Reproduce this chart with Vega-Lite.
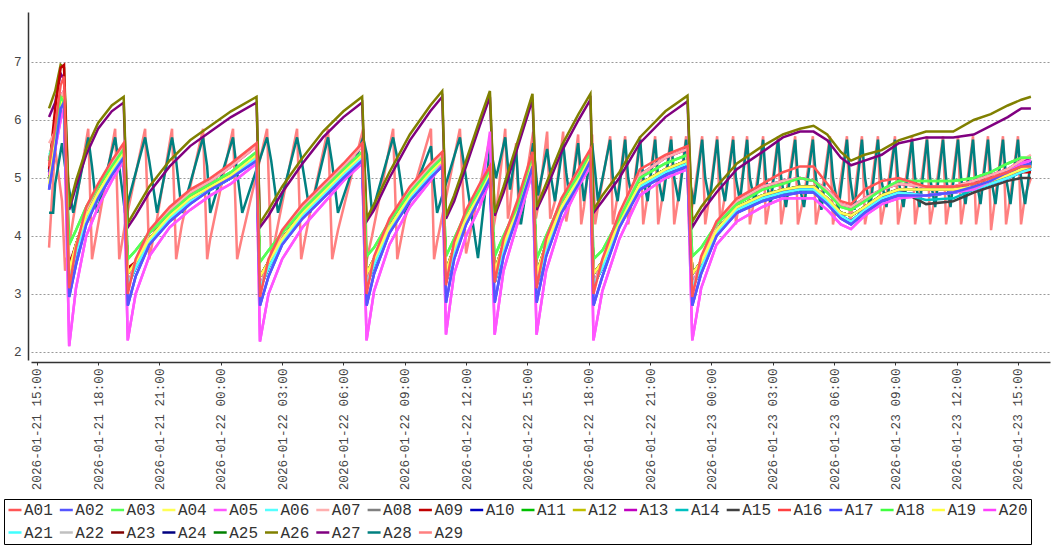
{
"$schema":"https://vega.github.io/schema/vega-lite/v6.json",
"width":1019,"height":348,
"autosize":{"type":"none"},
"padding":{"left":31,"top":12,"right":8,"bottom":191},
"background":"white",
"datasets":{
"g":[
{"t":"2026-01-21T15:36","A01":5.2,"A02":4.8,"A03":5.3,"A04":4.9,"A05":5.05,"A06":5.4,"A07":5.6,"A08":5.0,"A09":5.15,"A10":5.1,"A11":5.0,"A12":5.0,"A13":5.3,"A14":5.1,"A15":5.0,"A16":5.3,"A17":4.8,"A18":5.3,"A19":5.0,"A20":5.05,"A21":5.1,"A22":5.0,"A23":5.0,"A24":5.0,"A25":5.0,"A26":6.2,"A27":6.05},
{"t":"2026-01-21T15:54","A01":5.9,"A02":5.5,"A03":5.8,"A04":5.7,"A05":5.5,"A06":5.6,"A07":5.8,"A08":5.7,"A09":6.2,"A10":5.6,"A11":5.7,"A12":5.7,"A13":5.8,"A14":5.6,"A15":5.7,"A16":5.8,"A17":5.5,"A18":5.8,"A19":5.7,"A20":5.5,"A21":5.6,"A22":5.7,"A23":5.7,"A24":5.6,"A25":5.7,"A26":6.5,"A27":6.3},
{"t":"2026-01-21T16:10","A01":6.6,"A02":6.2,"A03":6.4,"A04":6.3,"A05":6.0,"A06":6.2,"A07":6.4,"A08":6.3,"A09":6.9,"A10":6.2,"A11":6.3,"A12":6.3,"A13":6.4,"A14":6.2,"A15":6.3,"A16":6.4,"A17":6.2,"A18":6.4,"A19":6.3,"A20":6.0,"A21":6.2,"A22":6.3,"A23":6.3,"A24":6.2,"A25":6.3,"A26":6.95,"A27":6.8},
{"t":"2026-01-21T16:20","A01":6.75,"A02":6.3,"A03":6.3,"A04":6.4,"A05":6.2,"A06":6.3,"A07":6.5,"A08":6.4,"A09":6.95,"A10":6.3,"A11":6.4,"A12":6.4,"A13":6.5,"A14":6.3,"A15":6.4,"A16":6.5,"A17":6.3,"A18":6.3,"A19":6.4,"A20":6.2,"A21":6.3,"A22":6.4,"A23":6.4,"A24":6.3,"A25":6.4,"A26":6.9,"A27":6.7},
{"t":"2026-01-21T16:35","A01":3.1,"A02":2.95,"A03":3.85,"A04":3.4,"A05":2.1,"A06":3.2,"A07":3.2,"A08":3.4,"A09":3.5,"A10":3.2,"A11":3.4,"A12":3.4,"A13":3.2,"A14":3.2,"A15":3.4,"A16":3.2,"A17":2.95,"A18":3.85,"A19":3.4,"A20":2.1,"A21":3.2,"A22":3.4,"A23":3.4,"A24":3.2,"A25":3.4,"A26":4.5,"A27":4.45},
{"t":"2026-01-21T16:55","A01":3.8,"A02":3.5,"A03":4.1,"A04":3.85,"A05":3.1,"A06":3.7,"A07":3.75,"A08":3.85,"A09":3.85,"A10":3.7,"A11":3.85,"A12":3.85,"A13":3.75,"A14":3.7,"A15":3.85,"A16":3.75,"A17":3.5,"A18":4.1,"A19":3.85,"A20":3.1,"A21":3.7,"A22":3.85,"A23":3.85,"A24":3.7,"A25":3.85,"A26":4.95,"A27":4.85},
{"t":"2026-01-21T17:25","A01":4.5,"A02":4.2,"A03":4.5,"A04":4.35,"A05":4.0,"A06":4.25,"A07":4.45,"A08":4.35,"A09":4.35,"A10":4.25,"A11":4.35,"A12":4.35,"A13":4.45,"A14":4.25,"A15":4.35,"A16":4.45,"A17":4.2,"A18":4.5,"A19":4.35,"A20":4.0,"A21":4.25,"A22":4.35,"A23":4.35,"A24":4.25,"A25":4.35,"A26":5.5,"A27":5.4},
{"t":"2026-01-21T18:00","A01":4.9,"A02":4.65,"A03":4.85,"A04":4.75,"A05":4.5,"A06":4.7,"A07":4.85,"A08":4.75,"A09":4.75,"A10":4.7,"A11":4.75,"A12":4.75,"A13":4.85,"A14":4.7,"A15":4.75,"A16":4.85,"A17":4.65,"A18":4.85,"A19":4.75,"A20":4.5,"A21":4.7,"A22":4.75,"A23":4.75,"A24":4.7,"A25":4.75,"A26":5.95,"A27":5.85},
{"t":"2026-01-21T18:40","A01":5.3,"A02":5.05,"A03":5.2,"A04":5.15,"A05":4.95,"A06":5.1,"A07":5.25,"A08":5.15,"A09":5.15,"A10":5.1,"A11":5.15,"A12":5.15,"A13":5.25,"A14":5.1,"A15":5.15,"A16":5.25,"A17":5.05,"A18":5.2,"A19":5.15,"A20":4.95,"A21":5.1,"A22":5.15,"A23":5.15,"A24":5.1,"A25":5.15,"A26":6.25,"A27":6.15},
{"t":"2026-01-21T19:15","A01":5.6,"A02":5.35,"A03":5.5,"A04":5.45,"A05":5.3,"A06":5.4,"A07":5.55,"A08":5.45,"A09":5.45,"A10":5.4,"A11":5.45,"A12":5.45,"A13":5.55,"A14":5.4,"A15":5.45,"A16":5.55,"A17":5.35,"A18":5.5,"A19":5.45,"A20":5.3,"A21":5.4,"A22":5.45,"A23":5.45,"A24":5.4,"A25":5.45,"A26":6.4,"A27":6.3},
{"t":"2026-01-21T19:27","A01":3.0,"A02":2.8,"A03":3.6,"A04":3.35,"A05":2.2,"A06":3.15,"A07":3.15,"A08":3.35,"A09":3.45,"A10":3.15,"A11":3.35,"A12":3.35,"A13":3.15,"A14":3.15,"A15":3.35,"A16":3.15,"A17":2.8,"A18":3.6,"A19":3.35,"A20":2.2,"A21":3.15,"A22":3.35,"A23":3.35,"A24":3.15,"A25":3.35,"A26":4.22,"A27":4.15},
{"t":"2026-01-21T19:50","A01":3.6,"A02":3.3,"A03":3.75,"A04":3.55,"A05":3.0,"A06":3.45,"A07":3.55,"A08":3.55,"A09":3.55,"A10":3.45,"A11":3.55,"A12":3.55,"A13":3.55,"A14":3.45,"A15":3.55,"A16":3.55,"A17":3.3,"A18":3.75,"A19":3.55,"A20":3.0,"A21":3.45,"A22":3.55,"A23":3.55,"A24":3.45,"A25":3.55,"A26":4.45,"A27":4.35},
{"t":"2026-01-21T20:30","A01":4.1,"A02":3.85,"A03":4.05,"A04":3.95,"A05":3.65,"A06":3.9,"A07":4.05,"A08":3.95,"A09":3.95,"A10":3.9,"A11":3.95,"A12":3.95,"A13":4.05,"A14":3.9,"A15":3.95,"A16":4.05,"A17":3.85,"A18":4.05,"A19":3.95,"A20":3.65,"A21":3.9,"A22":3.95,"A23":3.95,"A24":3.9,"A25":3.95,"A26":4.85,"A27":4.75},
{"t":"2026-01-21T21:30","A01":4.5,"A02":4.25,"A03":4.4,"A04":4.35,"A05":4.15,"A06":4.3,"A07":4.45,"A08":4.35,"A09":4.35,"A10":4.3,"A11":4.35,"A12":4.35,"A13":4.45,"A14":4.3,"A15":4.35,"A16":4.45,"A17":4.25,"A18":4.4,"A19":4.35,"A20":4.15,"A21":4.3,"A22":4.35,"A23":4.35,"A24":4.3,"A25":4.35,"A26":5.3,"A27":5.2},
{"t":"2026-01-21T22:30","A01":4.8,"A02":4.55,"A03":4.7,"A04":4.65,"A05":4.45,"A06":4.6,"A07":4.75,"A08":4.65,"A09":4.65,"A10":4.6,"A11":4.65,"A12":4.65,"A13":4.75,"A14":4.6,"A15":4.65,"A16":4.75,"A17":4.55,"A18":4.7,"A19":4.65,"A20":4.45,"A21":4.6,"A22":4.65,"A23":4.65,"A24":4.6,"A25":4.65,"A26":5.65,"A27":5.55},
{"t":"2026-01-21T23:30","A01":5.0,"A02":4.8,"A03":4.9,"A04":4.85,"A05":4.7,"A06":4.8,"A07":4.95,"A08":4.85,"A09":4.85,"A10":4.8,"A11":4.85,"A12":4.85,"A13":4.95,"A14":4.8,"A15":4.85,"A16":4.95,"A17":4.8,"A18":4.9,"A19":4.85,"A20":4.7,"A21":4.8,"A22":4.85,"A23":4.85,"A24":4.8,"A25":4.85,"A26":5.9,"A27":5.8},
{"t":"2026-01-22T00:30","A01":5.25,"A02":5.0,"A03":5.1,"A04":5.05,"A05":4.9,"A06":5.0,"A07":5.2,"A08":5.05,"A09":5.05,"A10":5.0,"A11":5.05,"A12":5.05,"A13":5.2,"A14":5.0,"A15":5.05,"A16":5.2,"A17":5.0,"A18":5.1,"A19":5.05,"A20":4.9,"A21":5.0,"A22":5.05,"A23":5.05,"A24":5.0,"A25":5.05,"A26":6.15,"A27":6.05},
{"t":"2026-01-22T01:45","A01":5.6,"A02":5.3,"A03":5.45,"A04":5.4,"A05":5.25,"A06":5.35,"A07":5.55,"A08":5.4,"A09":5.4,"A10":5.35,"A11":5.4,"A12":5.4,"A13":5.55,"A14":5.35,"A15":5.4,"A16":5.55,"A17":5.3,"A18":5.45,"A19":5.4,"A20":5.25,"A21":5.35,"A22":5.4,"A23":5.4,"A24":5.35,"A25":5.4,"A26":6.4,"A27":6.3},
{"t":"2026-01-22T01:55","A01":2.95,"A02":2.8,"A03":3.55,"A04":3.3,"A05":2.18,"A06":3.1,"A07":3.1,"A08":3.3,"A09":3.3,"A10":3.1,"A11":3.3,"A12":3.3,"A13":3.1,"A14":3.1,"A15":3.3,"A16":3.1,"A17":2.8,"A18":3.55,"A19":3.3,"A20":2.18,"A21":3.1,"A22":3.3,"A23":3.3,"A24":3.1,"A25":3.3,"A26":4.22,"A27":4.15},
{"t":"2026-01-22T02:20","A01":3.6,"A02":3.3,"A03":3.75,"A04":3.55,"A05":3.0,"A06":3.45,"A07":3.55,"A08":3.55,"A09":3.55,"A10":3.45,"A11":3.55,"A12":3.55,"A13":3.55,"A14":3.45,"A15":3.55,"A16":3.55,"A17":3.3,"A18":3.75,"A19":3.55,"A20":3.0,"A21":3.45,"A22":3.55,"A23":3.55,"A24":3.45,"A25":3.55,"A26":4.45,"A27":4.35},
{"t":"2026-01-22T03:00","A01":4.1,"A02":3.85,"A03":4.05,"A04":3.95,"A05":3.6,"A06":3.9,"A07":4.05,"A08":3.95,"A09":3.95,"A10":3.9,"A11":3.95,"A12":3.95,"A13":4.05,"A14":3.9,"A15":3.95,"A16":4.05,"A17":3.85,"A18":4.05,"A19":3.95,"A20":3.6,"A21":3.9,"A22":3.95,"A23":3.95,"A24":3.9,"A25":3.95,"A26":4.85,"A27":4.75},
{"t":"2026-01-22T04:00","A01":4.55,"A02":4.3,"A03":4.45,"A04":4.4,"A05":4.15,"A06":4.35,"A07":4.5,"A08":4.4,"A09":4.4,"A10":4.35,"A11":4.4,"A12":4.4,"A13":4.5,"A14":4.35,"A15":4.4,"A16":4.5,"A17":4.3,"A18":4.45,"A19":4.4,"A20":4.15,"A21":4.35,"A22":4.4,"A23":4.4,"A24":4.35,"A25":4.4,"A26":5.35,"A27":5.25},
{"t":"2026-01-22T05:00","A01":4.9,"A02":4.65,"A03":4.8,"A04":4.75,"A05":4.55,"A06":4.7,"A07":4.85,"A08":4.75,"A09":4.75,"A10":4.7,"A11":4.75,"A12":4.75,"A13":4.85,"A14":4.7,"A15":4.75,"A16":4.85,"A17":4.65,"A18":4.8,"A19":4.75,"A20":4.55,"A21":4.7,"A22":4.75,"A23":4.75,"A24":4.7,"A25":4.75,"A26":5.8,"A27":5.7},
{"t":"2026-01-22T06:00","A01":5.25,"A02":5.0,"A03":5.15,"A04":5.1,"A05":4.95,"A06":5.05,"A07":5.2,"A08":5.1,"A09":5.1,"A10":5.05,"A11":5.1,"A12":5.1,"A13":5.2,"A14":5.05,"A15":5.1,"A16":5.2,"A17":5.0,"A18":5.15,"A19":5.1,"A20":4.95,"A21":5.05,"A22":5.1,"A23":5.1,"A24":5.05,"A25":5.1,"A26":6.15,"A27":6.05},
{"t":"2026-01-22T06:55","A01":5.6,"A02":5.3,"A03":5.45,"A04":5.4,"A05":5.25,"A06":5.35,"A07":5.55,"A08":5.4,"A09":5.4,"A10":5.35,"A11":5.4,"A12":5.4,"A13":5.55,"A14":5.35,"A15":5.4,"A16":5.55,"A17":5.3,"A18":5.45,"A19":5.4,"A20":5.25,"A21":5.35,"A22":5.4,"A23":5.4,"A24":5.35,"A25":5.4,"A26":6.4,"A27":6.3},
{"t":"2026-01-22T07:08","A01":3.0,"A02":2.8,"A03":3.65,"A04":3.35,"A05":2.2,"A06":3.15,"A07":3.15,"A08":3.35,"A09":3.35,"A10":3.15,"A11":3.35,"A12":3.35,"A13":3.15,"A14":3.15,"A15":3.35,"A16":3.15,"A17":2.8,"A18":3.65,"A19":3.35,"A20":2.2,"A21":3.15,"A22":3.35,"A23":3.35,"A24":3.15,"A25":3.35,"A26":4.3,"A27":4.25},
{"t":"2026-01-22T07:30","A01":3.65,"A02":3.35,"A03":3.8,"A04":3.6,"A05":3.05,"A06":3.5,"A07":3.6,"A08":3.6,"A09":3.6,"A10":3.5,"A11":3.6,"A12":3.6,"A13":3.6,"A14":3.5,"A15":3.6,"A16":3.6,"A17":3.35,"A18":3.8,"A19":3.6,"A20":3.05,"A21":3.5,"A22":3.6,"A23":3.6,"A24":3.5,"A25":3.6,"A26":4.55,"A27":4.45},
{"t":"2026-01-22T08:15","A01":4.3,"A02":4.05,"A03":4.25,"A04":4.15,"A05":3.85,"A06":4.1,"A07":4.25,"A08":4.15,"A09":4.15,"A10":4.1,"A11":4.15,"A12":4.15,"A13":4.25,"A14":4.1,"A15":4.15,"A16":4.25,"A17":4.05,"A18":4.25,"A19":4.15,"A20":3.85,"A21":4.1,"A22":4.15,"A23":4.15,"A24":4.1,"A25":4.15,"A26":5.1,"A27":5.0},
{"t":"2026-01-22T09:15","A01":4.85,"A02":4.6,"A03":4.75,"A04":4.7,"A05":4.5,"A06":4.65,"A07":4.8,"A08":4.7,"A09":4.7,"A10":4.65,"A11":4.7,"A12":4.7,"A13":4.8,"A14":4.65,"A15":4.7,"A16":4.8,"A17":4.6,"A18":4.75,"A19":4.7,"A20":4.5,"A21":4.65,"A22":4.7,"A23":4.7,"A24":4.65,"A25":4.7,"A26":5.75,"A27":5.65},
{"t":"2026-01-22T10:15","A01":5.25,"A02":5.0,"A03":5.15,"A04":5.1,"A05":4.95,"A06":5.05,"A07":5.2,"A08":5.1,"A09":5.1,"A10":5.05,"A11":5.1,"A12":5.1,"A13":5.2,"A14":5.05,"A15":5.1,"A16":5.2,"A17":5.0,"A18":5.15,"A19":5.1,"A20":4.95,"A21":5.05,"A22":5.1,"A23":5.1,"A24":5.05,"A25":5.1,"A26":6.25,"A27":6.15},
{"t":"2026-01-22T10:50","A01":5.45,"A02":5.2,"A03":5.35,"A04":5.3,"A05":5.25,"A06":5.25,"A07":5.4,"A08":5.3,"A09":5.3,"A10":5.25,"A11":5.3,"A12":5.3,"A13":5.4,"A14":5.25,"A15":5.3,"A16":5.4,"A17":5.2,"A18":5.35,"A19":5.3,"A20":5.25,"A21":5.25,"A22":5.3,"A23":5.3,"A24":5.25,"A25":5.3,"A26":6.5,"A27":6.4},
{"t":"2026-01-22T11:01","A01":3.15,"A02":2.85,"A03":3.65,"A04":3.4,"A05":2.3,"A06":3.2,"A07":3.25,"A08":3.4,"A09":3.4,"A10":3.2,"A11":3.4,"A12":3.4,"A13":3.25,"A14":3.2,"A15":3.4,"A16":3.25,"A17":2.85,"A18":3.65,"A19":3.4,"A20":2.3,"A21":3.2,"A22":3.4,"A23":3.4,"A24":3.2,"A25":3.4,"A26":4.35,"A27":4.3},
{"t":"2026-01-22T11:25","A01":3.9,"A02":3.6,"A03":3.95,"A04":3.8,"A05":3.35,"A06":3.7,"A07":3.85,"A08":3.8,"A09":3.8,"A10":3.7,"A11":3.8,"A12":3.8,"A13":3.85,"A14":3.7,"A15":3.8,"A16":3.85,"A17":3.6,"A18":3.95,"A19":3.8,"A20":3.35,"A21":3.7,"A22":3.8,"A23":3.8,"A24":3.7,"A25":3.8,"A26":4.7,"A27":4.6},
{"t":"2026-01-22T12:00","A01":4.45,"A02":4.2,"A03":4.4,"A04":4.3,"A05":4.0,"A06":4.25,"A07":4.4,"A08":4.3,"A09":4.3,"A10":4.25,"A11":4.3,"A12":4.3,"A13":4.4,"A14":4.25,"A15":4.3,"A16":4.4,"A17":4.2,"A18":4.4,"A19":4.3,"A20":4.0,"A21":4.25,"A22":4.3,"A23":4.3,"A24":4.25,"A25":4.3,"A26":5.3,"A27":5.2},
{"t":"2026-01-22T12:40","A01":4.9,"A02":4.65,"A03":4.8,"A04":4.75,"A05":4.5,"A06":4.7,"A07":4.85,"A08":4.75,"A09":4.75,"A10":4.7,"A11":4.75,"A12":4.75,"A13":4.85,"A14":4.7,"A15":4.75,"A16":4.85,"A17":4.65,"A18":4.8,"A19":4.75,"A20":4.5,"A21":4.7,"A22":4.75,"A23":4.75,"A24":4.7,"A25":4.75,"A26":6.0,"A27":5.9},
{"t":"2026-01-22T13:10","A01":5.2,"A02":5.0,"A03":5.15,"A04":5.1,"A05":5.8,"A06":5.05,"A07":5.2,"A08":5.1,"A09":5.1,"A10":5.05,"A11":5.1,"A12":5.1,"A13":5.2,"A14":5.05,"A15":5.1,"A16":5.2,"A17":5.0,"A18":5.15,"A19":5.1,"A20":4.95,"A21":5.05,"A22":5.1,"A23":5.1,"A24":5.05,"A25":5.1,"A26":6.5,"A27":6.4},
{"t":"2026-01-22T13:24","A01":3.2,"A02":2.85,"A03":3.65,"A04":3.4,"A05":2.3,"A06":3.2,"A07":3.25,"A08":3.4,"A09":3.4,"A10":3.2,"A11":3.4,"A12":3.4,"A13":3.25,"A14":3.2,"A15":3.4,"A16":3.25,"A17":2.85,"A18":3.65,"A19":3.4,"A20":2.3,"A21":3.2,"A22":3.4,"A23":3.4,"A24":3.2,"A25":3.4,"A26":4.4,"A27":4.35},
{"t":"2026-01-22T13:50","A01":3.95,"A02":3.65,"A03":4.0,"A04":3.85,"A05":3.4,"A06":3.75,"A07":3.9,"A08":3.85,"A09":3.85,"A10":3.75,"A11":3.85,"A12":3.85,"A13":3.9,"A14":3.75,"A15":3.85,"A16":3.9,"A17":3.65,"A18":4.0,"A19":3.85,"A20":3.4,"A21":3.75,"A22":3.85,"A23":3.85,"A24":3.75,"A25":3.85,"A26":4.85,"A27":4.75},
{"t":"2026-01-22T14:30","A01":4.6,"A02":4.35,"A03":4.5,"A04":4.45,"A05":4.2,"A06":4.4,"A07":4.55,"A08":4.45,"A09":4.45,"A10":4.4,"A11":4.45,"A12":4.45,"A13":4.55,"A14":4.4,"A15":4.45,"A16":4.55,"A17":4.35,"A18":4.5,"A19":4.45,"A20":4.2,"A21":4.4,"A22":4.45,"A23":4.45,"A24":4.4,"A25":4.45,"A26":5.6,"A27":5.5},
{"t":"2026-01-22T15:15","A01":5.45,"A02":5.2,"A03":5.4,"A04":5.3,"A05":5.1,"A06":5.25,"A07":5.4,"A08":5.3,"A09":5.3,"A10":5.25,"A11":5.3,"A12":5.3,"A13":5.4,"A14":5.25,"A15":5.3,"A16":5.4,"A17":5.2,"A18":5.4,"A19":5.3,"A20":5.1,"A21":5.25,"A22":5.3,"A23":5.3,"A24":5.25,"A25":5.3,"A26":6.45,"A27":6.35},
{"t":"2026-01-22T15:27","A01":3.1,"A02":2.85,"A03":3.6,"A04":3.35,"A05":2.3,"A06":3.15,"A07":3.2,"A08":3.35,"A09":3.35,"A10":3.15,"A11":3.35,"A12":3.35,"A13":3.2,"A14":3.15,"A15":3.35,"A16":3.2,"A17":2.85,"A18":3.6,"A19":3.35,"A20":2.3,"A21":3.15,"A22":3.35,"A23":3.35,"A24":3.15,"A25":3.35,"A26":4.5,"A27":4.45},
{"t":"2026-01-22T15:55","A01":3.95,"A02":3.65,"A03":4.0,"A04":3.85,"A05":3.4,"A06":3.75,"A07":3.9,"A08":3.85,"A09":3.85,"A10":3.75,"A11":3.85,"A12":3.85,"A13":3.9,"A14":3.75,"A15":3.85,"A16":3.9,"A17":3.65,"A18":4.0,"A19":3.85,"A20":3.4,"A21":3.75,"A22":3.85,"A23":3.85,"A24":3.75,"A25":3.85,"A26":4.9,"A27":4.8},
{"t":"2026-01-22T16:40","A01":4.65,"A02":4.4,"A03":4.6,"A04":4.5,"A05":4.25,"A06":4.45,"A07":4.6,"A08":4.5,"A09":4.5,"A10":4.45,"A11":4.5,"A12":4.5,"A13":4.6,"A14":4.45,"A15":4.5,"A16":4.6,"A17":4.4,"A18":4.6,"A19":4.5,"A20":4.25,"A21":4.45,"A22":4.5,"A23":4.5,"A24":4.45,"A25":4.5,"A26":5.55,"A27":5.45},
{"t":"2026-01-22T17:30","A01":5.15,"A02":4.9,"A03":5.05,"A04":5.0,"A05":4.85,"A06":4.95,"A07":5.1,"A08":5.0,"A09":5.0,"A10":4.95,"A11":5.0,"A12":5.0,"A13":5.1,"A14":4.95,"A15":5.0,"A16":5.1,"A17":4.9,"A18":5.05,"A19":5.0,"A20":4.85,"A21":4.95,"A22":5.0,"A23":5.0,"A24":4.95,"A25":5.0,"A26":6.1,"A27":6.0},
{"t":"2026-01-22T18:05","A01":5.5,"A02":5.3,"A03":5.45,"A04":5.35,"A05":5.2,"A06":5.3,"A07":5.45,"A08":5.35,"A09":5.35,"A10":5.3,"A11":5.35,"A12":5.35,"A13":5.45,"A14":5.3,"A15":5.35,"A16":5.45,"A17":5.3,"A18":5.45,"A19":5.35,"A20":5.2,"A21":5.3,"A22":5.35,"A23":5.35,"A24":5.3,"A25":5.35,"A26":6.45,"A27":6.35},
{"t":"2026-01-22T18:14","A01":3.0,"A02":2.8,"A03":3.6,"A04":3.35,"A05":2.2,"A06":3.15,"A07":3.15,"A08":3.35,"A09":3.35,"A10":3.15,"A11":3.35,"A12":3.35,"A13":3.15,"A14":3.15,"A15":3.35,"A16":3.15,"A17":2.8,"A18":3.6,"A19":3.35,"A20":2.2,"A21":3.15,"A22":3.35,"A23":3.35,"A24":3.15,"A25":3.35,"A26":4.45,"A27":4.4},
{"t":"2026-01-22T18:40","A01":3.6,"A02":3.3,"A03":3.75,"A04":3.55,"A05":3.05,"A06":3.45,"A07":3.55,"A08":3.55,"A09":3.55,"A10":3.45,"A11":3.55,"A12":3.55,"A13":3.55,"A14":3.45,"A15":3.55,"A16":3.55,"A17":3.3,"A18":3.75,"A19":3.55,"A20":3.05,"A21":3.45,"A22":3.55,"A23":3.55,"A24":3.45,"A25":3.55,"A26":4.7,"A27":4.6},
{"t":"2026-01-22T19:30","A01":4.4,"A02":4.15,"A03":4.3,"A04":4.25,"A05":3.95,"A06":4.2,"A07":4.35,"A08":4.25,"A09":4.25,"A10":4.2,"A11":4.25,"A12":4.25,"A13":4.35,"A14":4.2,"A15":4.25,"A16":4.35,"A17":4.15,"A18":4.3,"A19":4.25,"A20":3.95,"A21":4.2,"A22":4.25,"A23":4.25,"A24":4.2,"A25":4.25,"A26":5.1,"A27":5.0},
{"t":"2026-01-22T20:30","A01":5.15,"A02":4.8,"A03":5.0,"A04":4.9,"A05":4.7,"A06":4.85,"A07":5.05,"A08":4.9,"A09":4.9,"A10":4.85,"A11":4.9,"A12":4.9,"A13":5.05,"A14":4.85,"A15":4.9,"A16":5.05,"A17":4.8,"A18":5.0,"A19":4.9,"A20":4.7,"A21":4.85,"A22":4.9,"A23":4.9,"A24":4.85,"A25":4.9,"A26":5.7,"A27":5.6},
{"t":"2026-01-22T21:45","A01":5.4,"A02":5.05,"A03":5.25,"A04":5.15,"A05":5.0,"A06":5.1,"A07":5.35,"A08":5.15,"A09":5.15,"A10":5.1,"A11":5.15,"A12":5.15,"A13":5.35,"A14":5.1,"A15":5.15,"A16":5.35,"A17":5.05,"A18":5.25,"A19":5.15,"A20":5.0,"A21":5.1,"A22":5.15,"A23":5.15,"A24":5.1,"A25":5.15,"A26":6.15,"A27":6.05},
{"t":"2026-01-22T22:50","A01":5.55,"A02":5.2,"A03":5.4,"A04":5.3,"A05":5.15,"A06":5.25,"A07":5.5,"A08":5.3,"A09":5.3,"A10":5.25,"A11":5.3,"A12":5.3,"A13":5.5,"A14":5.25,"A15":5.3,"A16":5.5,"A17":5.2,"A18":5.4,"A19":5.3,"A20":5.15,"A21":5.25,"A22":5.3,"A23":5.3,"A24":5.25,"A25":5.3,"A26":6.42,"A27":6.32},
{"t":"2026-01-22T23:04","A01":2.95,"A02":2.8,"A03":3.65,"A04":3.35,"A05":2.2,"A06":3.1,"A07":3.1,"A08":3.35,"A09":3.35,"A10":3.1,"A11":3.35,"A12":3.35,"A13":3.1,"A14":3.1,"A15":3.35,"A16":3.1,"A17":2.8,"A18":3.65,"A19":3.35,"A20":2.2,"A21":3.1,"A22":3.35,"A23":3.35,"A24":3.1,"A25":3.35,"A26":4.25,"A27":4.15},
{"t":"2026-01-22T23:30","A01":3.65,"A02":3.35,"A03":3.8,"A04":3.55,"A05":3.1,"A06":3.45,"A07":3.6,"A08":3.55,"A09":3.55,"A10":3.45,"A11":3.55,"A12":3.55,"A13":3.6,"A14":3.45,"A15":3.55,"A16":3.6,"A17":3.35,"A18":3.8,"A19":3.55,"A20":3.1,"A21":3.45,"A22":3.55,"A23":3.55,"A24":3.45,"A25":3.55,"A26":4.5,"A27":4.4},
{"t":"2026-01-23T00:15","A01":4.25,"A02":4.0,"A03":4.2,"A04":4.1,"A05":3.85,"A06":4.05,"A07":4.2,"A08":4.1,"A09":4.1,"A10":4.05,"A11":4.1,"A12":4.1,"A13":4.2,"A14":4.05,"A15":4.1,"A16":4.2,"A17":4.0,"A18":4.2,"A19":4.1,"A20":3.85,"A21":4.05,"A22":4.1,"A23":4.1,"A24":4.05,"A25":4.1,"A26":4.85,"A27":4.75},
{"t":"2026-01-23T01:15","A01":4.65,"A02":4.4,"A03":4.55,"A04":4.5,"A05":4.25,"A06":4.45,"A07":4.6,"A08":4.5,"A09":4.5,"A10":4.45,"A11":4.5,"A12":4.5,"A13":4.6,"A14":4.45,"A15":4.5,"A16":4.6,"A17":4.4,"A18":4.55,"A19":4.5,"A20":4.25,"A21":4.45,"A22":4.5,"A23":4.5,"A24":4.45,"A25":4.5,"A26":5.25,"A27":5.15},
{"t":"2026-01-23T02:30","A01":4.9,"A02":4.6,"A03":4.8,"A04":4.7,"A05":4.5,"A06":4.65,"A07":4.85,"A08":4.7,"A09":4.7,"A10":4.65,"A11":4.7,"A12":4.7,"A13":4.85,"A14":4.65,"A15":4.7,"A16":4.85,"A17":4.6,"A18":4.8,"A19":4.7,"A20":4.5,"A21":4.65,"A22":4.7,"A23":4.7,"A24":4.65,"A25":4.7,"A26":5.55,"A27":5.45},
{"t":"2026-01-23T03:30","A01":5.1,"A02":4.7,"A03":4.9,"A04":4.8,"A05":4.65,"A06":4.75,"A07":4.95,"A08":4.8,"A09":4.8,"A10":4.75,"A11":4.8,"A12":4.8,"A13":4.95,"A14":4.75,"A15":4.8,"A16":4.95,"A17":4.7,"A18":4.9,"A19":4.8,"A20":4.65,"A21":4.75,"A22":4.8,"A23":4.8,"A24":4.75,"A25":4.8,"A26":5.75,"A27":5.7},
{"t":"2026-01-23T04:20","A01":5.2,"A02":4.75,"A03":5.0,"A04":4.85,"A05":4.65,"A06":4.8,"A07":5.0,"A08":4.85,"A09":4.85,"A10":4.8,"A11":4.85,"A12":4.85,"A13":5.0,"A14":4.8,"A15":4.85,"A16":5.0,"A17":4.75,"A18":5.0,"A19":4.85,"A20":4.65,"A21":4.8,"A22":4.85,"A23":4.85,"A24":4.8,"A25":4.85,"A26":5.85,"A27":5.8},
{"t":"2026-01-23T05:00","A01":5.2,"A02":4.75,"A03":4.95,"A04":4.85,"A05":4.65,"A06":4.8,"A07":4.95,"A08":4.85,"A09":4.85,"A10":4.8,"A11":4.85,"A12":4.85,"A13":4.95,"A14":4.8,"A15":4.85,"A16":4.95,"A17":4.75,"A18":4.95,"A19":4.85,"A20":4.65,"A21":4.8,"A22":4.85,"A23":4.85,"A24":4.8,"A25":4.85,"A26":5.9,"A27":5.8},
{"t":"2026-01-23T05:40","A01":4.9,"A02":4.55,"A03":4.75,"A04":4.65,"A05":4.45,"A06":4.6,"A07":4.8,"A08":4.65,"A09":4.65,"A10":4.6,"A11":4.65,"A12":4.65,"A13":4.8,"A14":4.6,"A15":4.65,"A16":4.8,"A17":4.55,"A18":4.75,"A19":4.65,"A20":4.45,"A21":4.6,"A22":4.65,"A23":4.65,"A24":4.6,"A25":4.65,"A26":5.75,"A27":5.65},
{"t":"2026-01-23T06:20","A01":4.6,"A02":4.3,"A03":4.5,"A04":4.4,"A05":4.2,"A06":4.35,"A07":4.55,"A08":4.4,"A09":4.4,"A10":4.35,"A11":4.4,"A12":4.4,"A13":4.55,"A14":4.35,"A15":4.4,"A16":4.55,"A17":4.3,"A18":4.5,"A19":4.4,"A20":4.2,"A21":4.35,"A22":4.4,"A23":4.4,"A24":4.35,"A25":4.4,"A26":5.45,"A27":5.35},
{"t":"2026-01-23T06:50","A01":4.55,"A02":4.2,"A03":4.45,"A04":4.35,"A05":4.12,"A06":4.25,"A07":4.5,"A08":4.35,"A09":4.35,"A10":4.25,"A11":4.35,"A12":4.35,"A13":4.5,"A14":4.25,"A15":4.35,"A16":4.5,"A17":4.2,"A18":4.45,"A19":4.35,"A20":4.12,"A21":4.25,"A22":4.35,"A23":4.35,"A24":4.25,"A25":4.35,"A26":5.3,"A27":5.22},
{"t":"2026-01-23T07:30","A01":4.8,"A02":4.4,"A03":4.6,"A04":4.5,"A05":4.35,"A06":4.45,"A07":4.65,"A08":4.5,"A09":4.5,"A10":4.45,"A11":4.5,"A12":4.5,"A13":4.65,"A14":4.45,"A15":4.5,"A16":4.65,"A17":4.4,"A18":4.6,"A19":4.5,"A20":4.35,"A21":4.45,"A22":4.5,"A23":4.5,"A24":4.45,"A25":4.5,"A26":5.4,"A27":5.3},
{"t":"2026-01-23T08:20","A01":4.95,"A02":4.6,"A03":4.8,"A04":4.7,"A05":4.55,"A06":4.65,"A07":4.8,"A08":4.7,"A09":4.7,"A10":4.65,"A11":4.7,"A12":4.7,"A13":4.8,"A14":4.65,"A15":4.7,"A16":4.8,"A17":4.6,"A18":4.8,"A19":4.7,"A20":4.55,"A21":4.65,"A22":4.7,"A23":4.7,"A24":4.65,"A25":4.7,"A26":5.48,"A27":5.4},
{"t":"2026-01-23T09:10","A01":5.0,"A02":4.7,"A03":4.95,"A04":4.8,"A05":4.65,"A06":4.75,"A07":4.9,"A08":4.8,"A09":4.8,"A10":4.75,"A11":4.8,"A12":4.8,"A13":4.9,"A14":4.75,"A15":4.8,"A16":4.9,"A17":4.7,"A18":4.95,"A19":4.8,"A20":4.65,"A21":4.75,"A22":4.8,"A23":4.8,"A24":4.75,"A25":4.8,"A26":5.65,"A27":5.6},
{"t":"2026-01-23T10:30","A01":4.85,"A02":4.7,"A03":4.95,"A04":4.8,"A05":4.7,"A06":4.7,"A07":4.85,"A08":4.8,"A09":4.8,"A10":4.7,"A11":4.8,"A12":4.8,"A13":4.85,"A14":4.62,"A15":4.55,"A16":4.85,"A17":4.7,"A18":4.95,"A19":4.8,"A20":4.7,"A21":4.7,"A22":4.8,"A23":4.8,"A24":4.7,"A25":4.8,"A26":5.8,"A27":5.7},
{"t":"2026-01-23T11:50","A01":4.85,"A02":4.75,"A03":4.95,"A04":4.8,"A05":4.75,"A06":4.75,"A07":4.85,"A08":4.8,"A09":4.8,"A10":4.75,"A11":4.8,"A12":4.8,"A13":4.85,"A14":4.65,"A15":4.6,"A16":4.85,"A17":4.75,"A18":4.95,"A19":4.8,"A20":4.75,"A21":4.75,"A22":4.8,"A23":4.8,"A24":4.75,"A25":4.8,"A26":5.8,"A27":5.7},
{"t":"2026-01-23T12:50","A01":4.9,"A02":4.85,"A03":5.0,"A04":4.85,"A05":4.8,"A06":4.8,"A07":4.95,"A08":4.85,"A09":4.85,"A10":4.8,"A11":4.85,"A12":4.85,"A13":4.95,"A14":4.8,"A15":4.75,"A16":4.95,"A17":4.85,"A18":5.0,"A19":4.85,"A20":4.8,"A21":4.8,"A22":4.85,"A23":4.85,"A24":4.8,"A25":4.85,"A26":6.0,"A27":5.75},
{"t":"2026-01-23T13:40","A01":5.0,"A02":4.95,"A03":5.1,"A04":4.95,"A05":4.95,"A06":4.9,"A07":5.05,"A08":4.95,"A09":4.95,"A10":4.9,"A11":4.95,"A12":4.95,"A13":5.05,"A14":4.9,"A15":4.85,"A16":5.05,"A17":4.95,"A18":5.1,"A19":4.95,"A20":4.95,"A21":4.9,"A22":4.95,"A23":4.95,"A24":4.9,"A25":4.95,"A26":6.1,"A27":5.9},
{"t":"2026-01-23T14:30","A01":5.1,"A02":5.1,"A03":5.25,"A04":5.05,"A05":5.1,"A06":5.0,"A07":5.15,"A08":5.05,"A09":5.05,"A10":5.0,"A11":5.05,"A12":5.05,"A13":5.15,"A14":5.0,"A15":4.95,"A16":5.15,"A17":5.1,"A18":5.25,"A19":5.05,"A20":5.1,"A21":5.0,"A22":5.05,"A23":5.05,"A24":5.0,"A25":5.05,"A26":6.25,"A27":6.05},
{"t":"2026-01-23T15:10","A01":5.2,"A02":5.2,"A03":5.35,"A04":5.15,"A05":5.25,"A06":5.1,"A07":5.3,"A08":5.15,"A09":5.1,"A10":5.1,"A11":5.15,"A12":5.15,"A13":5.3,"A14":5.1,"A15":5.0,"A16":5.3,"A17":5.2,"A18":5.35,"A19":5.15,"A20":5.25,"A21":5.1,"A22":5.15,"A23":5.15,"A24":5.1,"A25":5.15,"A26":6.35,"A27":6.2},
{"t":"2026-01-23T15:38","A01":5.2,"A02":5.25,"A03":5.35,"A04":5.2,"A05":5.3,"A06":5.15,"A07":5.4,"A08":5.2,"A09":5.1,"A10":5.15,"A11":5.2,"A12":5.2,"A13":5.35,"A14":5.15,"A15":5.0,"A16":5.35,"A17":5.25,"A18":5.35,"A19":5.2,"A20":5.3,"A21":5.15,"A22":5.2,"A23":5.2,"A24":5.15,"A25":5.2,"A26":6.4,"A27":6.2}
],
"z":[
{"t":"2026-01-21T15:36","A28":4.4,"A29":3.8},{"t":"2026-01-21T15:48","A28":4.4,"A29":5.0},{"t":"2026-01-21T15:54","A28":4.9,"A29":5.5},
{"t":"2026-01-21T16:14","A28":5.6,"A29":4.6},{"t":"2026-01-21T16:23","A28":5.2,"A29":3.4},{"t":"2026-01-21T16:47","A28":4.4,"A29":4.3},
{"t":"2026-01-21T17:31","A28":5.7,"A29":5.85},{"t":"2026-01-21T17:42","A28":5.2,"A29":3.6},{"t":"2026-01-21T17:57","A28":4.4,"A29":4.1},
{"t":"2026-01-21T18:50","A28":5.7,"A29":5.85},{"t":"2026-01-21T19:02","A28":5.2,"A29":3.6},{"t":"2026-01-21T19:19","A28":4.4,"A29":4.2},
{"t":"2026-01-21T20:18","A28":5.7,"A29":5.85},{"t":"2026-01-21T20:30","A28":5.3,"A29":3.6},{"t":"2026-01-21T20:53","A28":4.4,"A29":4.3},
{"t":"2026-01-21T21:37","A28":5.7,"A29":5.85},{"t":"2026-01-21T21:49","A28":5.3,"A29":3.6},{"t":"2026-01-21T22:06","A28":4.4,"A29":4.2},
{"t":"2026-01-21T23:08","A28":5.7,"A29":5.85},{"t":"2026-01-21T23:20","A28":5.2,"A29":3.6},{"t":"2026-01-21T23:29","A28":4.4,"A29":3.95},
{"t":"2026-01-22T00:36","A28":5.7,"A29":5.85},{"t":"2026-01-22T00:48","A28":5.1,"A29":3.6},{"t":"2026-01-22T01:03","A28":4.4,"A29":4.0},
{"t":"2026-01-22T02:16","A28":5.7,"A29":5.85},{"t":"2026-01-22T02:28","A28":5.3,"A29":3.6},{"t":"2026-01-22T02:48","A28":4.4,"A29":4.2},
{"t":"2026-01-22T03:44","A28":5.7,"A29":5.85},{"t":"2026-01-22T03:56","A28":5.35,"A29":3.6},{"t":"2026-01-22T04:22","A28":4.4,"A29":4.4},
{"t":"2026-01-22T05:15","A28":5.7,"A29":5.85},{"t":"2026-01-22T05:27","A28":5.25,"A29":3.6},{"t":"2026-01-22T05:44","A28":4.4,"A29":4.1},
{"t":"2026-01-22T06:58","A28":5.7,"A29":5.85},{"t":"2026-01-22T07:09","A28":5.4,"A29":3.6},{"t":"2026-01-22T07:24","A28":4.4,"A29":4.0},
{"t":"2026-01-22T08:26","A28":5.7,"A29":5.85},{"t":"2026-01-22T08:38","A28":5.35,"A29":3.6},{"t":"2026-01-22T09:01","A28":4.4,"A29":4.3},
{"t":"2026-01-22T10:17","A28":5.55,"A29":5.85},{"t":"2026-01-22T10:26","A28":4.9,"A29":3.6},{"t":"2026-01-22T10:35","A28":4.4,"A29":3.9},
{"t":"2026-01-22T11:42","A28":5.7,"A29":5.85},{"t":"2026-01-22T12:00","A28":5.0,"A29":3.7},{"t":"2026-01-22T12:35","A28":3.62,"A29":4.7},
{"t":"2026-01-22T13:10","A28":5.5,"A29":5.7},{"t":"2026-01-22T13:19","A28":5.3,"A29":4.1},{"t":"2026-01-22T13:28","A28":5.0,"A29":4.4},
{"t":"2026-01-22T13:55","A28":5.7,"A29":5.85},{"t":"2026-01-22T14:03","A28":5.2,"A29":4.3},{"t":"2026-01-22T14:09","A28":4.8,"A29":4.5},
{"t":"2026-01-22T14:27","A28":5.5,"A29":5.6},{"t":"2026-01-22T14:36","A28":4.6,"A29":4.2},{"t":"2026-01-22T14:41","A28":4.2,"A29":4.4},
{"t":"2026-01-22T15:17","A28":5.6,"A29":5.8},{"t":"2026-01-22T15:25","A28":5.1,"A29":4.3},{"t":"2026-01-22T15:31","A28":4.7,"A29":4.5},
{"t":"2026-01-22T15:58","A28":5.5,"A29":5.8},{"t":"2026-01-22T16:07","A28":5.1,"A29":4.3},{"t":"2026-01-22T16:21","A28":4.6,"A29":4.6},
{"t":"2026-01-22T16:45","A28":5.6,"A29":5.8},{"t":"2026-01-22T16:54","A28":5.1,"A29":4.25},{"t":"2026-01-22T17:05","A28":4.6,"A29":4.6},
{"t":"2026-01-22T17:29","A28":5.6,"A29":5.75},{"t":"2026-01-22T17:38","A28":5.05,"A29":4.2},{"t":"2026-01-22T17:46","A28":4.6,"A29":4.5},
{"t":"2026-01-22T18:10","A28":5.6,"A29":5.75},{"t":"2026-01-22T18:19","A28":5.1,"A29":4.2},{"t":"2026-01-22T18:27","A28":4.6,"A29":4.5},
{"t":"2026-01-22T19:03","A28":5.66,"A29":5.72},{"t":"2026-01-22T19:11","A28":5.0,"A29":4.2},{"t":"2026-01-22T19:25","A28":4.6,"A29":4.7},
{"t":"2026-01-22T19:47","A28":5.66,"A29":5.72},{"t":"2026-01-22T19:56","A28":5.0,"A29":4.2},{"t":"2026-01-22T20:09","A28":4.6,"A29":4.7},
{"t":"2026-01-22T20:31","A28":5.66,"A29":5.72},{"t":"2026-01-22T20:40","A28":5.0,"A29":4.2},{"t":"2026-01-22T20:53","A28":4.6,"A29":4.7},
{"t":"2026-01-22T21:15","A28":5.66,"A29":5.72},{"t":"2026-01-22T21:24","A28":5.0,"A29":4.2},{"t":"2026-01-22T21:37","A28":4.6,"A29":4.7},
{"t":"2026-01-22T22:02","A28":5.66,"A29":5.72},{"t":"2026-01-22T22:11","A28":5.0,"A29":4.2},{"t":"2026-01-22T22:24","A28":4.6,"A29":4.7},
{"t":"2026-01-22T22:46","A28":5.66,"A29":5.72},{"t":"2026-01-22T22:55","A28":5.0,"A29":4.2},{"t":"2026-01-22T23:09","A28":4.55,"A29":4.7},
{"t":"2026-01-22T23:33","A28":5.66,"A29":5.72},{"t":"2026-01-22T23:42","A28":5.0,"A29":4.2},{"t":"2026-01-22T23:55","A28":4.6,"A29":4.7},
{"t":"2026-01-23T00:17","A28":5.66,"A29":5.72},{"t":"2026-01-23T00:26","A28":5.0,"A29":4.2},{"t":"2026-01-23T00:40","A28":4.6,"A29":4.7},
{"t":"2026-01-23T01:04","A28":5.66,"A29":5.72},{"t":"2026-01-23T01:12","A28":5.0,"A29":4.2},{"t":"2026-01-23T01:24","A28":4.6,"A29":4.7},
{"t":"2026-01-23T01:45","A28":5.66,"A29":5.72},{"t":"2026-01-23T01:53","A28":5.0,"A29":4.2},{"t":"2026-01-23T02:08","A28":4.55,"A29":4.7},
{"t":"2026-01-23T02:32","A28":5.66,"A29":5.72},{"t":"2026-01-23T02:40","A28":5.0,"A29":4.2},{"t":"2026-01-23T02:54","A28":4.55,"A29":4.7},
{"t":"2026-01-23T03:16","A28":5.66,"A29":5.72},{"t":"2026-01-23T03:25","A28":5.0,"A29":4.2},{"t":"2026-01-23T03:39","A28":4.5,"A29":4.7},
{"t":"2026-01-23T04:06","A28":5.66,"A29":5.72},{"t":"2026-01-23T04:14","A28":5.0,"A29":4.2},{"t":"2026-01-23T04:32","A28":4.5,"A29":4.7},
{"t":"2026-01-23T04:58","A28":5.66,"A29":5.72},{"t":"2026-01-23T05:07","A28":5.0,"A29":4.2},{"t":"2026-01-23T05:23","A28":4.45,"A29":4.7},
{"t":"2026-01-23T05:48","A28":5.66,"A29":5.72},{"t":"2026-01-23T05:57","A28":5.0,"A29":4.2},{"t":"2026-01-23T06:13","A28":4.45,"A29":4.7},
{"t":"2026-01-23T06:38","A28":5.66,"A29":5.72},{"t":"2026-01-23T06:47","A28":5.0,"A29":4.2},{"t":"2026-01-23T07:00","A28":4.45,"A29":4.7},
{"t":"2026-01-23T07:22","A28":5.66,"A29":5.72},{"t":"2026-01-23T07:31","A28":5.0,"A29":4.2},{"t":"2026-01-23T07:46","A28":4.45,"A29":4.7},
{"t":"2026-01-23T08:09","A28":5.66,"A29":5.72},{"t":"2026-01-23T08:18","A28":5.0,"A29":4.2},{"t":"2026-01-23T08:34","A28":4.5,"A29":4.7},
{"t":"2026-01-23T08:59","A28":5.66,"A29":5.72},{"t":"2026-01-23T09:08","A28":5.0,"A29":4.2},{"t":"2026-01-23T09:24","A28":4.5,"A29":4.7},
{"t":"2026-01-23T09:49","A28":5.66,"A29":5.72},{"t":"2026-01-23T09:58","A28":5.0,"A29":4.2},{"t":"2026-01-23T10:11","A28":4.5,"A29":4.7},
{"t":"2026-01-23T10:33","A28":5.66,"A29":5.72},{"t":"2026-01-23T10:42","A28":5.0,"A29":4.2},{"t":"2026-01-23T10:57","A28":4.5,"A29":4.7},
{"t":"2026-01-23T11:20","A28":5.66,"A29":5.72},{"t":"2026-01-23T11:29","A28":5.0,"A29":4.2},{"t":"2026-01-23T11:42","A28":4.5,"A29":4.7},
{"t":"2026-01-23T12:04","A28":5.66,"A29":5.72},{"t":"2026-01-23T12:13","A28":5.0,"A29":4.2},{"t":"2026-01-23T12:26","A28":4.55,"A29":4.7},
{"t":"2026-01-23T12:48","A28":5.66,"A29":5.72},{"t":"2026-01-23T12:57","A28":5.0,"A29":4.2},{"t":"2026-01-23T13:10","A28":4.55,"A29":4.7},
{"t":"2026-01-23T13:32","A28":5.66,"A29":5.72},{"t":"2026-01-23T13:41","A28":5.0,"A29":4.1},{"t":"2026-01-23T13:54","A28":4.55,"A29":4.7},
{"t":"2026-01-23T14:16","A28":5.66,"A29":5.72},{"t":"2026-01-23T14:25","A28":5.0,"A29":4.2},{"t":"2026-01-23T14:38","A28":4.55,"A29":4.7},
{"t":"2026-01-23T15:00","A28":5.66,"A29":5.72},{"t":"2026-01-23T15:09","A28":5.0,"A29":4.2},{"t":"2026-01-23T15:21","A28":4.55,"A29":4.7},
{"t":"2026-01-23T15:38","A28":5.3,"A29":5.0}
]
},
"encoding":{
"x":{"field":"t","type":"temporal",
 "scale":{"domain":[{"year":2026,"month":1,"date":21,"hours":14,"minutes":43},{"year":2026,"month":1,"date":23,"hours":16,"minutes":34}]},
 "axis":{"title":null,"format":"%Y-%m-%d %H:%M","values":[
  {"year":2026,"month":1,"date":21,"hours":15},{"year":2026,"month":1,"date":21,"hours":18},{"year":2026,"month":1,"date":21,"hours":21},
  {"year":2026,"month":1,"date":22,"hours":0},{"year":2026,"month":1,"date":22,"hours":3},{"year":2026,"month":1,"date":22,"hours":6},
  {"year":2026,"month":1,"date":22,"hours":9},{"year":2026,"month":1,"date":22,"hours":12},{"year":2026,"month":1,"date":22,"hours":15},
  {"year":2026,"month":1,"date":22,"hours":18},{"year":2026,"month":1,"date":22,"hours":21},{"year":2026,"month":1,"date":23,"hours":0},
  {"year":2026,"month":1,"date":23,"hours":3},{"year":2026,"month":1,"date":23,"hours":6},{"year":2026,"month":1,"date":23,"hours":9},
  {"year":2026,"month":1,"date":23,"hours":12},{"year":2026,"month":1,"date":23,"hours":15}],
  "labelAngle":-90,"grid":false,"offset":2,"tickSize":3,"labelPadding":3}},
"y":{"field":"v","type":"quantitative",
 "scale":{"domain":[1.862,7.862],"nice":false,"zero":false},
 "axis":{"title":null,"values":[2,3,4,5,6,7],"format":"d","grid":true,"gridDash":[2,2],"gridColor":"#999999","gridWidth":1,"offset":3,"ticks":false,"labelPadding":7}},
"color":{"field":"s","type":"nominal",
 "scale":{"domain":["A01","A02","A03","A04","A05","A06","A07","A08","A09","A10","A11","A12","A13","A14","A15","A16","A17","A18","A19","A20","A21","A22","A23","A24","A25","A26","A27","A28","A29"],
  "range":["#FF5555","#5555FF","#55FF55","#FFFF55","#FF55FF","#55FFFF","#FFAFAF","#808080","#C00000","#0000C0","#00C000","#C0C000","#C000C0","#00C0C0","#404040","#FF4040","#4040FF","#40FF40","#FFFF40","#FF40FF","#40FFFF","#C0C0C0","#800000","#000080","#008000","#808000","#800080","#008080","#FF8080"]},
 "legend":{"title":null,"orient":"none","legendX":-27,"legendY":487,"direction":"horizontal","columns":20,"symbolType":"stroke","symbolSize":169,"symbolStrokeWidth":2.5,"labelFont":"Liberation Mono","labelFontSize":16,"labelColor":"#333333","labelOffset":1,"columnPadding":1.3,"rowPadding":6.5,"padding":3,"strokeColor":"#000000","fillColor":"#ffffff"}}
},
"layer":[
{"data":{"name":"z"},"transform":[{"fold":["A29","A28"],"as":["s","v"]}],"mark":{"type":"line","strokeWidth":2.5}},
{"data":{"name":"g"},"transform":[{"fold":["A27","A26","A25","A24","A23","A22","A21","A20","A19","A18","A17","A16","A15","A14","A13","A12","A11","A10","A09","A08","A07","A06","A05","A04","A03","A02","A01"],"as":["s","v"]}],"mark":{"type":"line","strokeWidth":2.5}}
],
"config":{
"view":{"stroke":null},
"font":"Liberation Mono",
"axis":{"labelFont":"Liberation Mono","labelFontSize":12.7,"labelColor":"#444444","domainColor":"#333333","domainWidth":1.5,"tickColor":"#333333"}
}
}
